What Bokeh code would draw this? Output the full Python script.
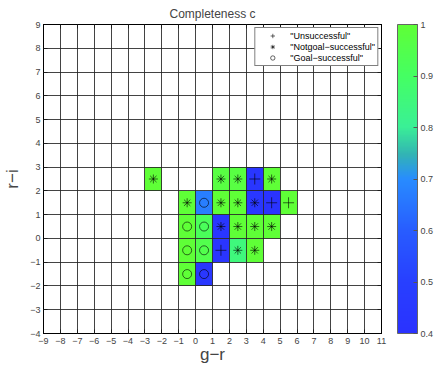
import numpy as np
from bokeh.plotting import figure
from bokeh.models import (LinearAxis, ColorBar, LinearColorMapper, FixedTicker,
                          Legend, LegendItem, ColumnDataSource, Range1d)
from bokeh.embed import file_html
from bokeh.resources import INLINE

# ---- data ----
gr_center = [-2.5, 1.5, 2.5, 3.5, 4.5,
             -0.5, 0.5, 1.5, 2.5, 3.5, 4.5, 5.5,
             -0.5, 0.5, 1.5, 2.5, 3.5, 4.5,
             -0.5, 0.5, 1.5, 2.5, 3.5,
             -0.5, 0.5]
ri_center = [2.5, 2.5, 2.5, 2.5, 2.5,
             1.5, 1.5, 1.5, 1.5, 1.5, 1.5, 1.5,
             0.5, 0.5, 0.5, 0.5, 0.5, 0.5,
             -0.5, -0.5, -0.5, -0.5, -0.5,
             -1.5, -1.5]
completeness = [1.0, 0.97, 0.97, 0.43, 1.0,
                1.0, 0.67, 1.0, 1.0, 0.44, 0.41, 1.0,
                1.0, 0.92, 0.43, 1.0, 1.0, 1.0,
                1.0, 0.95, 0.42, 0.85, 1.0,
                1.0, 0.44]
outcome = ["N", "N", "N", "U", "N",
           "N", "G", "N", "N", "N", "U", "U",
           "G", "G", "N", "N", "N", "N",
           "G", "G", "U", "N", "N",
           "G", "G"]
x_ticks = list(range(-9, 12))
y_ticks = list(range(-4, 10))
cbar_ticks = [0.4, 0.5, 0.6, 0.7, 0.8, 0.9, 1.0]

# ---- colormap (style) ----
anchors = [(0.0, (42, 50, 255)), (0.17, (40, 64, 255)), (0.33, (40, 92, 255)),
           (0.5, (40, 140, 255)), (0.58, (50, 180, 180)), (0.67, (58, 240, 150)),
           (0.83, (68, 255, 100)), (1.0, (95, 255, 55))]
palette = []
for t in np.linspace(0, 1, 256):
    for (t0, c0), (t1, c1) in zip(anchors[:-1], anchors[1:]):
        if t0 <= t <= t1:
            f = (t - t0) / (t1 - t0)
            c = [int(round(a + (b - a) * f)) for a, b in zip(c0, c1)]
            palette.append("#%02x%02x%02x" % tuple(c))
            break
mapper = LinearColorMapper(palette=palette, low=0.4, high=1.0)

FONT = "Liberation Sans"

p = figure(width=436, height=367, output_backend="svg", toolbar_location=None,
           x_range=Range1d(-9, 11), y_range=Range1d(-4, 9),
           min_border_left=40, min_border_right=52, min_border_top=24, min_border_bottom=34)
p.title.text = "Completeness c"
p.title.align = "center"
p.title.text_font = FONT
p.title.text_font_size = "12px"
p.title.text_font_style = "normal"
p.title.standoff = 7

src = ColumnDataSource(dict(x=gr_center, y=ri_center, c=completeness))
p.rect(x="x", y="y", width=1, height=1, source=src,
       fill_color={"field": "c", "transform": mapper}, line_color=None)

def sel(kind):
    xs = [x for x, o in zip(gr_center, outcome) if o == kind]
    ys = [y for y, o in zip(ri_center, outcome) if o == kind]
    return xs, ys

xs, ys = sel("U")
r_u = p.scatter(xs, ys, marker="cross", size=11, line_color="black", line_width=0.6)
xs, ys = sel("N")
r_n = p.scatter(xs, ys, marker="asterisk", size=9, line_color="black", line_width=0.6)
xs, ys = sel("G")
r_g = p.scatter(xs, ys, marker="circle", size=9, fill_color=None, line_color="black", line_width=0.6)

for ax in (p.xaxis[0], p.yaxis[0]):
    ax.major_tick_in = 4
    ax.major_tick_out = 0
    ax.minor_tick_line_color = None
    ax.major_label_text_font = FONT
    ax.major_label_text_font_size = "9px"
    ax.axis_label_text_font = FONT
    ax.axis_label_text_font_size = "17px"
    ax.axis_label_text_font_style = "normal"
    ax.axis_line_color = "black"
p.xaxis[0].ticker = FixedTicker(ticks=x_ticks)
p.yaxis[0].ticker = FixedTicker(ticks=y_ticks)
p.xaxis[0].axis_label = "g\u2212r"
p.yaxis[0].axis_label = "r\u2212i"
p.xaxis[0].major_label_standoff = 4
p.yaxis[0].major_label_standoff = 3
p.xaxis[0].axis_label_standoff = -2
p.yaxis[0].axis_label_standoff = 5

p.xgrid.ticker = FixedTicker(ticks=x_ticks)
p.ygrid.ticker = FixedTicker(ticks=y_ticks)
for g in (p.xgrid, p.ygrid):
    g.grid_line_color = "#222222"
    g.grid_line_alpha = 0.85
    g.grid_line_width = 1
    g.level = "overlay"

top = LinearAxis(ticker=FixedTicker(ticks=x_ticks), major_label_text_font_size="1px",
                 major_label_text_color=None,
                 major_tick_in=4, major_tick_out=0, minor_tick_line_color=None,
                 major_label_standoff=0)
right = LinearAxis(ticker=FixedTicker(ticks=y_ticks), major_label_text_font_size="1px",
                   major_label_text_color=None,
                   major_tick_in=4, major_tick_out=0, minor_tick_line_color=None,
                   major_label_standoff=0)
p.add_layout(top, "above")
p.add_layout(right, "right")

legend = Legend(items=[LegendItem(label='"Unsuccessful"', renderers=[r_u]),
                       LegendItem(label='"Notgoal\u2212successful"', renderers=[r_n]),
                       LegendItem(label='"Goal\u2212successful"', renderers=[r_g])],
                location="top_right", label_text_font=FONT, label_text_font_size="9px",
                label_text_color="black",
                label_height=9, glyph_height=11, glyph_width=30, spacing=0,
                padding=2, margin=3, border_line_color="black", border_line_width=1,
                background_fill_alpha=1.0, label_standoff=3)
p.add_layout(legend)

cb = ColorBar(color_mapper=mapper, ticker=FixedTicker(ticks=cbar_ticks),
              width=20, height=309, padding=0, margin=0, label_standoff=3,
              major_label_text_font=FONT, major_label_text_font_size="9px",
              major_tick_in=4, major_tick_out=0, major_tick_line_color="#555555",
              bar_line_color="#666666", border_line_color=None, location=(16, 0))
p.add_layout(cb, "right")

p.outline_line_color = "black"
p.background_fill_color = "white"

open("out.html", "w").write(file_html(p, INLINE))
